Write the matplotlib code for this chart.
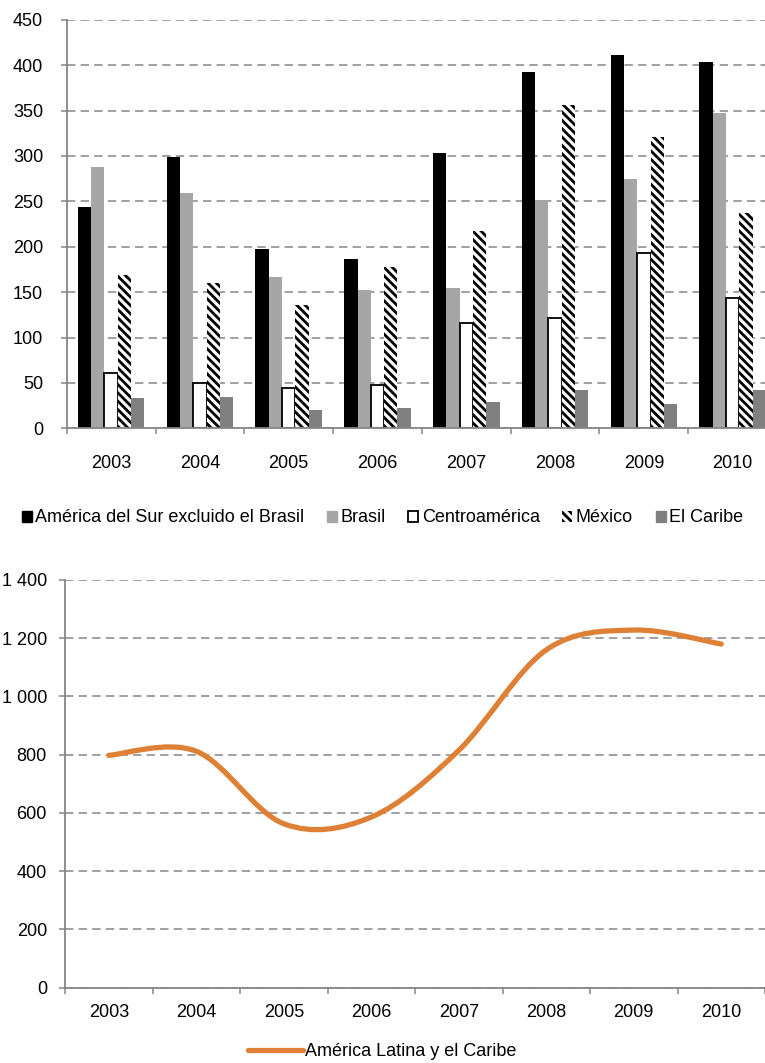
import matplotlib
matplotlib.use("Agg")
import matplotlib.pyplot as plt
import matplotlib.patches as mpatches
from matplotlib.path import Path
from matplotlib.lines import Line2D
from matplotlib.ticker import FixedLocator, FuncFormatter, MultipleLocator
import numpy as np

years = ["2003", "2004", "2005", "2006", "2007", "2008", "2009", "2010"]

sur_sin_brasil = [244, 299, 198, 187, 303, 393, 411, 404]
brasil = [288, 259, 167, 152, 154, 252, 275, 347]
centroamerica = [61, 50, 44, 48, 116, 122, 193, 144]
mexico = [169, 160, 136, 178, 217, 356, 321, 237]
caribe = [33, 35, 20, 22, 29, 42, 27, 42]

america_latina = [798, 812, 563, 586, 815, 1160, 1228, 1180]

GRID = "#868686"
ORANGE = "#DE8136"
plt.rcParams["font.family"] = ["Liberation Sans", "DejaVu Sans"]
plt.rcParams["font.size"] = 13
plt.rcParams["hatch.linewidth"] = 2.0
plt.rcParams["hatch.color"] = "black"


def style_axes(ax, ypad, xpad):
    for side in ("top", "right"):
        ax.spines[side].set_visible(False)
    for side in ("left", "bottom"):
        ax.spines[side].set_color(GRID)
        ax.spines[side].set_linewidth(1.3)
    ax.yaxis.grid(True, color=GRID, linewidth=1.1, linestyle=(0, (5.5, 3.4)))
    ax.set_axisbelow(True)
    ax.tick_params(axis="y", length=4, width=1.1, color=GRID, pad=ypad)
    # year labels sit between boundary tick marks
    ax.set_xlim(-0.5, len(years) - 0.5)
    ax.set_xticks(range(len(years)))
    ax.set_xticklabels(years)
    ax.xaxis.set_minor_locator(FixedLocator(np.arange(-0.5, len(years), 1.0)))
    ax.tick_params(axis="x", which="major", length=0, pad=xpad)
    ax.tick_params(axis="x", which="minor", length=4, width=1.1, color=GRID)


fig = plt.figure(figsize=(7.65, 10.63), dpi=100)

# regional bars
ax1 = fig.add_axes([0.0872, 0.5971, 0.9286, 0.3843])
x = np.arange(len(years))
w = 0.15
series = [
    (sur_sin_brasil, dict(color="black")),
    (brasil, dict(color="#A6A6A6")),
    (centroamerica, dict(facecolor="white", edgecolor="black", linewidth=1.3)),
    (mexico, dict(facecolor="white", edgecolor="black", hatch="\\\\\\\\", linewidth=0)),
    (caribe, dict(color="#808080")),
]
for i, (vals, kw) in enumerate(series):
    ax1.bar(x + (i - 2) * w, vals, width=w, **kw)
ax1.set_ylim(0, 450)
ax1.yaxis.set_major_locator(MultipleLocator(50))
style_axes(ax1, ypad=13, xpad=19)

labels = ["América del Sur excluido el Brasil", "Brasil", "Centroamérica", "México", "El Caribe"]
handles = [
    mpatches.Patch(color="black"),
    mpatches.Patch(color="#A6A6A6"),
    mpatches.Patch(facecolor="white", edgecolor="black", linewidth=1.3),
    mpatches.Patch(facecolor="white", edgecolor="black", hatch="\\\\\\\\", linewidth=0),
    mpatches.Patch(color="#808080"),
]
fig.legend(handles, labels, loc="center", bbox_to_anchor=(0.5, 1 - 518 / 1063), ncol=5,
           frameon=False, handlelength=0.55, handleheight=0.55, handletextpad=0.2,
           columnspacing=1.25, borderpad=0, fontsize=13)

# regional total, smoothed with cubic Bezier segments
ax2 = fig.add_axes([0.085, 0.0708, 0.915, 0.3836])
pts = np.column_stack([x, america_latina]).astype(float)
verts = [pts[0]]
codes = [Path.MOVETO]
n = len(pts)
for i in range(n - 1):
    p0 = pts[max(i - 1, 0)]
    p1 = pts[i]
    p2 = pts[i + 1]
    p3 = pts[min(i + 2, n - 1)]
    verts += [p1 + (p2 - p0) / 6, p2 - (p3 - p1) / 6, p2]
    codes += [Path.CURVE4] * 3
ax2.add_patch(mpatches.PathPatch(Path(verts, codes), facecolor="none",
                                 edgecolor=ORANGE, linewidth=3.8, capstyle="round",
                                 joinstyle="round"))
ax2.set_ylim(0, 1400)
ax2.yaxis.set_major_locator(MultipleLocator(200))
ax2.yaxis.set_major_formatter(FuncFormatter(lambda v, p: f"{v:,.0f}".replace(",", " ")))
style_axes(ax2, ypad=9, xpad=12)

line_handle = Line2D([], [], color=ORANGE, linewidth=3.8, solid_capstyle="round")
fig.legend([line_handle], ["América Latina y el Caribe"], loc="center",
           bbox_to_anchor=(0.5, 1 - 1052 / 1063), frameon=False, handlelength=3.0,
           handletextpad=0.15, borderpad=0, fontsize=13)

fig.savefig("out.png", dpi=100)
